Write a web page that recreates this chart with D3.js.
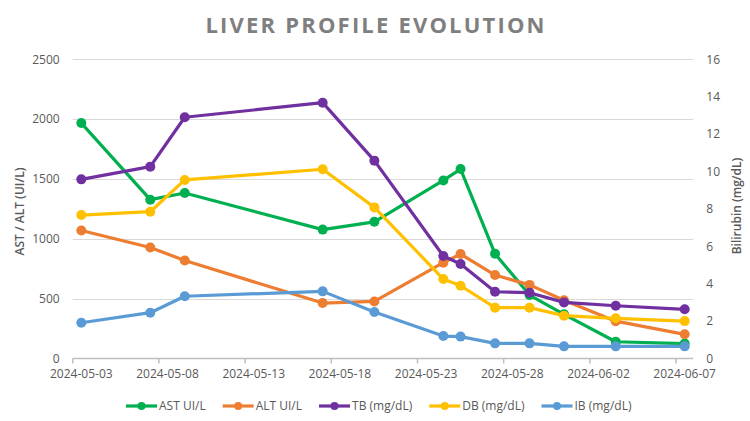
<!DOCTYPE html>
<html>
<head>
<meta charset="utf-8">
<script src="https://cdn.jsdelivr.net/npm/d3@7"></script>
<style>
  body { margin: 0; background: #fff; }
  svg { display: block; font-family: "Open Sans", sans-serif; }
</style>
</head>
<body>
<div id="chart"></div>
<script>
// Sample dates
const dates = ['2024-05-03', '2024-05-07', '2024-05-09', '2024-05-17', '2024-05-20', '2024-05-24',
  '2024-05-25', '2024-05-27', '2024-05-29', '2024-05-31', '2024-06-03', '2024-06-07'];

// Enzymes (left axis, UI/L)
const ast = [1967, 1327, 1383, 1077, 1142, 1488, 1583, 875, 530, 369, 140, 125];
const alt = [1069, 927, 819, 463, 477, 801, 873, 697, 615, 487, 312, 202];

// Bilirubin (right axis, mg/dL)
const tb = [9.58, 10.26, 12.9, 13.68, 10.58, 5.48, 5.05, 3.57, 3.52, 3.0, 2.82, 2.63];
const db = [7.67, 7.85, 9.55, 10.12, 8.08, 4.25, 3.89, 2.72, 2.72, 2.29, 2.15, 2.0];
const ib = [1.91, 2.45, 3.33, 3.59, 2.49, 1.2, 1.17, 0.81, 0.81, 0.65, 0.65, 0.65];

const xTickLabels = ['2024-05-03', '2024-05-08', '2024-05-13', '2024-05-18', '2024-05-23',
  '2024-05-28', '2024-06-02', '2024-06-07'];
const leftTicks = [0, 500, 1000, 1500, 2000, 2500];
const rightTicks = [0, 2, 4, 6, 8, 10, 12, 14, 16];

const width = 750;
const height = 421;
const margin = {top: 59.3, left: 72.7, right: 56.7, bottom: 62.5};
const fontSize = '12px';
const textColor = '#595959';

const parse = d3.utcParse('%Y-%m-%d');
const halfDay = 12 * 3600 * 1000;

const series = [
  {name: 'AST UI/L', values: ast, axis: 'left', color: '#00b050'},
  {name: 'ALT UI/L', values: alt, axis: 'left', color: '#ed7d31'},
  {name: 'TB (mg/dL)', values: tb, axis: 'right', color: '#7030a0'},
  {name: 'DB (mg/dL)', values: db, axis: 'right', color: '#ffc000'},
  {name: 'IB (mg/dL)', values: ib, axis: 'right', color: '#5b9bd5'}
];

const svg = d3.select('#chart')
  .append('svg')
  .attr('width', width)
  .attr('height', height);

// Date axis: each day is a slot, points sit in the middle of it
const xScale = d3.scaleUtc()
  .domain([parse('2024-05-03'), parse('2024-06-08')])
  .range([margin.left, width - margin.right]);

const yLeft = d3.scaleLinear()
  .domain([0, 2500])
  .range([height - margin.bottom, margin.top]);

const yRight = d3.scaleLinear()
  .domain([0, 16])
  .range([height - margin.bottom, margin.top]);

// Title
svg.append('text')
  .attr('x', width / 2)
  .attr('y', 33.3)
  .attr('text-anchor', 'middle')
  .attr('textLength', 339)
  .attr('lengthAdjust', 'spacing')
  .style('font-size', '22px')
  .style('font-weight', 'bold')
  .style('fill', '#7f7f7f')
  .text('LIVER PROFILE EVOLUTION');

// Gridlines
svg.append('g')
  .selectAll('line')
  .data(leftTicks.slice(1))
  .join('line')
  .attr('x1', margin.left)
  .attr('x2', width - margin.right)
  .attr('y1', d => Math.round(yLeft(d)) + 0.5)
  .attr('y2', d => Math.round(yLeft(d)) + 0.5)
  .attr('stroke', '#d9d9d9')
  .attr('stroke-width', 1);

// Left axis
svg.append('g')
  .attr('transform', `translate(${margin.left - 13}, 0)`)
  .call(d3.axisLeft(yLeft).tickValues(leftTicks).tickFormat(d3.format('d')).tickSize(0).tickPadding(0))
  .call(g => g.select('.domain').remove())
  .selectAll('text')
  .style('font-family', '"Open Sans", sans-serif')
  .style('font-size', fontSize)
  .style('fill', textColor);

// Right axis
svg.append('g')
  .attr('transform', `translate(${width - margin.right + 13}, 0)`)
  .call(d3.axisRight(yRight).tickValues(rightTicks).tickFormat(d3.format('d')).tickSize(0).tickPadding(0))
  .call(g => g.select('.domain').remove())
  .selectAll('text')
  .style('font-family', '"Open Sans", sans-serif')
  .style('font-size', fontSize)
  .style('fill', textColor);

// Bottom axis: tick marks at day boundaries, labels centred in the day slot
const xTickDates = xTickLabels.map(parse);
const xAxis = svg.append('g')
  .attr('transform', `translate(0, ${height - margin.bottom})`);

xAxis.append('line')
  .attr('x1', margin.left)
  .attr('x2', width - margin.right)
  .attr('stroke', '#bfbfbf')
  .attr('stroke-width', 1.5);

xAxis.selectAll('.tick-mark')
  .data(xTickDates)
  .join('line')
  .attr('class', 'tick-mark')
  .attr('x1', d => xScale(d))
  .attr('x2', d => xScale(d))
  .attr('y1', 0)
  .attr('y2', 5)
  .attr('stroke', '#bfbfbf')
  .attr('stroke-width', 1.5);

xAxis.selectAll('.tick-label')
  .data(xTickDates)
  .join('text')
  .attr('class', 'tick-label')
  .attr('x', d => xScale(new Date(d.getTime() + halfDay)))
  .attr('y', 19.5)
  .attr('text-anchor', 'middle')
  .style('font-size', fontSize)
  .style('fill', textColor)
  .text(d => d3.utcFormat('%Y-%m-%d')(d));

// Axis titles
svg.append('text')
  .attr('transform', 'translate(24, 211.5) rotate(-90)')
  .attr('text-anchor', 'middle')
  .style('font-size', fontSize)
  .style('font-weight', 600)
  .style('fill', textColor)
  .text('AST / ALT (UI/L)');

svg.append('text')
  .attr('transform', 'translate(741, 206) rotate(-90)')
  .attr('text-anchor', 'middle')
  .style('font-size', fontSize)
  .style('font-weight', 600)
  .style('fill', textColor)
  .text('Bilirubin (mg/dL)');

// Lines and markers
const points = dates.map(d => new Date(parse(d).getTime() + halfDay));

series.forEach(s => {
  const yScale = s.axis === 'left' ? yLeft : yRight;
  const data = s.values.map((v, i) => ({date: points[i], value: v}));

  const line = d3.line()
    .x(d => xScale(d.date))
    .y(d => yScale(d.value));

  const g = svg.append('g');

  g.append('path')
    .datum(data)
    .attr('d', line)
    .attr('fill', 'none')
    .attr('stroke', s.color)
    .attr('stroke-width', 3.2)
    .attr('stroke-linejoin', 'round');

  g.selectAll('circle')
    .data(data)
    .join('circle')
    .attr('cx', d => xScale(d.date))
    .attr('cy', d => yScale(d.value))
    .attr('r', 5)
    .attr('fill', s.color);
});

// Legend
const legend = svg.append('g')
  .attr('transform', 'translate(126, 406)');

let legendX = 0;
series.forEach(s => {
  const item = legend.append('g')
    .attr('transform', `translate(${legendX}, 0)`);

  item.append('line')
    .attr('x1', 0)
    .attr('x2', 31)
    .attr('stroke', s.color)
    .attr('stroke-width', 3.2);

  item.append('circle')
    .attr('cx', 15.5)
    .attr('r', 4)
    .attr('fill', s.color);

  const label = item.append('text')
    .attr('x', 33)
    .attr('dy', '0.35em')
    .style('font-size', fontSize)
    .style('fill', textColor)
    .text(s.name);

  legendX += 33 + label.node().getComputedTextLength() + 17;
});
</script>
</body>
</html>
